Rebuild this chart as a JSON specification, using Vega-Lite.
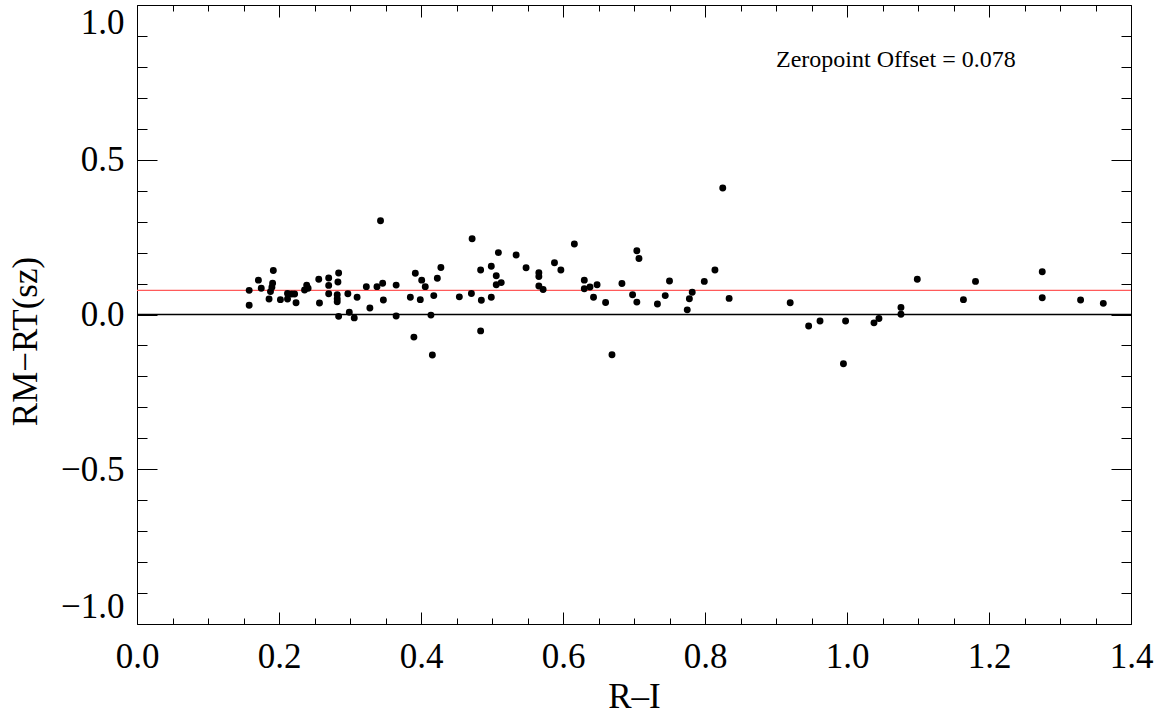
{
  "$schema": "https://vega.github.io/schema/vega-lite/v6.json",
  "width": 994,
  "height": 619,
  "autosize": {"type": "none"},
  "padding": {"left": 137, "top": 5, "right": 30, "bottom": 91},
  "background": "white",
  "config": {
    "view": {"stroke": null},
    "font": "Liberation Serif",
    "axis": {
      "domainColor": "black",
      "domainWidth": 1,
      "tickColor": "black",
      "tickWidth": 1,
      "grid": false,
      "labelFont": "Liberation Serif",
      "titleFont": "Liberation Serif",
      "labelFontSize": 35,
      "titleFontSize": 35,
      "labelColor": "black",
      "titleColor": "black",
      "titleFontWeight": "normal",
      "labelOverlap": false,
      "labelBound": false,
      "labelFlush": false
    }
  },
  "datasets": {
    "pts": [
      {"ri": 0.158, "dr": 0.078}, {"ri": 0.158, "dr": 0.030}, {"ri": 0.171, "dr": 0.111}, {"ri": 0.175, "dr": 0.085},
      {"ri": 0.186, "dr": 0.050}, {"ri": 0.188, "dr": 0.074}, {"ri": 0.190, "dr": 0.088}, {"ri": 0.191, "dr": 0.101},
      {"ri": 0.192, "dr": 0.142}, {"ri": 0.202, "dr": 0.048}, {"ri": 0.212, "dr": 0.050}, {"ri": 0.212, "dr": 0.068},
      {"ri": 0.218, "dr": 0.066}, {"ri": 0.222, "dr": 0.066}, {"ri": 0.224, "dr": 0.038}, {"ri": 0.236, "dr": 0.079},
      {"ri": 0.239, "dr": 0.095}, {"ri": 0.241, "dr": 0.085}, {"ri": 0.256, "dr": 0.114}, {"ri": 0.257, "dr": 0.037},
      {"ri": 0.270, "dr": 0.118}, {"ri": 0.270, "dr": 0.094}, {"ri": 0.270, "dr": 0.067}, {"ri": 0.282, "dr": 0.064},
      {"ri": 0.283, "dr": 0.105}, {"ri": 0.284, "dr": 0.134}, {"ri": 0.282, "dr": 0.051}, {"ri": 0.282, "dr": 0.041},
      {"ri": 0.284, "dr": -0.006}, {"ri": 0.297, "dr": 0.067}, {"ri": 0.299, "dr": 0.007}, {"ri": 0.306, "dr": -0.011},
      {"ri": 0.310, "dr": 0.056}, {"ri": 0.323, "dr": 0.090}, {"ri": 0.328, "dr": 0.021}, {"ri": 0.338, "dr": 0.090},
      {"ri": 0.343, "dr": 0.303}, {"ri": 0.346, "dr": 0.101}, {"ri": 0.347, "dr": 0.047}, {"ri": 0.365, "dr": 0.095},
      {"ri": 0.365, "dr": -0.005}, {"ri": 0.385, "dr": 0.056}, {"ri": 0.390, "dr": -0.073}, {"ri": 0.392, "dr": 0.133},
      {"ri": 0.399, "dr": 0.048}, {"ri": 0.401, "dr": 0.111}, {"ri": 0.406, "dr": 0.090}, {"ri": 0.414, "dr": -0.002},
      {"ri": 0.416, "dr": -0.131}, {"ri": 0.418, "dr": 0.061}, {"ri": 0.423, "dr": 0.117}, {"ri": 0.428, "dr": 0.152},
      {"ri": 0.454, "dr": 0.057}, {"ri": 0.471, "dr": 0.068}, {"ri": 0.472, "dr": 0.245}, {"ri": 0.484, "dr": 0.144},
      {"ri": 0.485, "dr": 0.046}, {"ri": 0.484, "dr": -0.053}, {"ri": 0.499, "dr": 0.156}, {"ri": 0.499, "dr": 0.056},
      {"ri": 0.506, "dr": 0.125}, {"ri": 0.506, "dr": 0.096}, {"ri": 0.509, "dr": 0.200}, {"ri": 0.513, "dr": 0.103},
      {"ri": 0.534, "dr": 0.192}, {"ri": 0.548, "dr": 0.151}, {"ri": 0.566, "dr": 0.135}, {"ri": 0.566, "dr": 0.123},
      {"ri": 0.566, "dr": 0.092}, {"ri": 0.572, "dr": 0.081}, {"ri": 0.588, "dr": 0.167}, {"ri": 0.597, "dr": 0.144},
      {"ri": 0.616, "dr": 0.228}, {"ri": 0.630, "dr": 0.111}, {"ri": 0.630, "dr": 0.083}, {"ri": 0.638, "dr": 0.089},
      {"ri": 0.643, "dr": 0.056}, {"ri": 0.648, "dr": 0.096}, {"ri": 0.660, "dr": 0.039}, {"ri": 0.669, "dr": -0.130},
      {"ri": 0.683, "dr": 0.100}, {"ri": 0.698, "dr": 0.064}, {"ri": 0.704, "dr": 0.206}, {"ri": 0.707, "dr": 0.181},
      {"ri": 0.704, "dr": 0.040}, {"ri": 0.733, "dr": 0.034}, {"ri": 0.744, "dr": 0.061}, {"ri": 0.750, "dr": 0.108},
      {"ri": 0.775, "dr": 0.015}, {"ri": 0.778, "dr": 0.051}, {"ri": 0.782, "dr": 0.072}, {"ri": 0.799, "dr": 0.107},
      {"ri": 0.814, "dr": 0.144}, {"ri": 0.825, "dr": 0.409}, {"ri": 0.834, "dr": 0.052}, {"ri": 0.920, "dr": 0.038},
      {"ri": 0.946, "dr": -0.037}, {"ri": 0.962, "dr": -0.021}, {"ri": 0.995, "dr": -0.159}, {"ri": 0.998, "dr": -0.021},
      {"ri": 1.038, "dr": -0.027}, {"ri": 1.045, "dr": -0.013}, {"ri": 1.076, "dr": 0.023}, {"ri": 1.076, "dr": 0.001},
      {"ri": 1.099, "dr": 0.114}, {"ri": 1.164, "dr": 0.048}, {"ri": 1.181, "dr": 0.107}, {"ri": 1.275, "dr": 0.138},
      {"ri": 1.275, "dr": 0.054}, {"ri": 1.329, "dr": 0.047}, {"ri": 1.361, "dr": 0.036}
    ],
    "refs": [{"level": 0.0, "kind": "zero"}, {"level": 0.078, "kind": "offset"}],
    "note": [{"ri": 0.9, "dr": 0.8, "label": "Zeropoint Offset = 0.078"}]
  },
  "layer": [
    {
      "data": {"name": "refs"},
      "mark": {"type": "rule", "strokeWidth": 1.3},
      "encoding": {
        "y": {"field": "level", "type": "quantitative", "axis": null, "scale": {"domain": [-1, 1], "nice": false, "zero": false}},
        "color": {"field": "kind", "type": "nominal", "legend": null, "scale": {"domain": ["zero", "offset"], "range": ["#000000", "#ff5a5a"]}}
      }
    },
    {
      "data": {"name": "pts"},
      "mark": {"type": "circle", "size": 48, "color": "black", "opacity": 1},
      "encoding": {
        "x": {
          "field": "ri", "type": "quantitative", "title": "R–I",
          "scale": {"domain": [0, 1.4], "nice": false, "zero": false},
          "axis": {
            "orient": "bottom",
            "values": [0, 0.05, 0.1, 0.15, 0.2, 0.25, 0.3, 0.35, 0.4, 0.45, 0.5, 0.55, 0.6, 0.65, 0.7, 0.75, 0.8, 0.85, 0.9, 0.95, 1.0, 1.05, 1.1, 1.15, 1.2, 1.25, 1.3, 1.35, 1.4],
            "tickSize": {"condition": {"test": "abs(datum.value*5-round(datum.value*5))<0.001", "value": -12}, "value": -6},
            "labelExpr": "abs(datum.value*5-round(datum.value*5))<0.001 ? format(datum.value, '.1f') : ''",
            "labelPadding": 27,
            "titlePadding": -1
          }
        },
        "y": {
          "field": "dr", "type": "quantitative", "title": "RM−RT(sz)",
          "scale": {"domain": [-1, 1], "nice": false, "zero": false},
          "axis": {
            "orient": "left",
            "values": [-1, -0.9, -0.8, -0.7, -0.6, -0.5, -0.4, -0.3, -0.2, -0.1, 0, 0.1, 0.2, 0.3, 0.4, 0.5, 0.6, 0.7, 0.8, 0.9, 1],
            "tickSize": {"condition": {"test": "abs(datum.value*2-round(datum.value*2))<0.001", "value": -20}, "value": -10},
            "labelExpr": "abs(datum.value*2-round(datum.value*2))<0.001 ? format(datum.value, '.1f') : ''",
            "labelFlush": true,
            "labelPadding": 33,
            "titlePadding": 17,
            "titleY": 336
          }
        }
      }
    },
    {
      "data": {"name": "note"},
      "mark": {"type": "text", "align": "left", "baseline": "alphabetic", "fontSize": 24, "font": "Liberation Serif", "color": "black"},
      "encoding": {
        "x": {
          "field": "ri", "type": "quantitative",
          "scale": {"domain": [0, 1.4], "nice": false, "zero": false},
          "axis": {
            "orient": "top", "title": null, "labels": false,
            "values": [0, 0.05, 0.1, 0.15, 0.2, 0.25, 0.3, 0.35, 0.4, 0.45, 0.5, 0.55, 0.6, 0.65, 0.7, 0.75, 0.8, 0.85, 0.9, 0.95, 1.0, 1.05, 1.1, 1.15, 1.2, 1.25, 1.3, 1.35, 1.4],
            "tickSize": {"condition": {"test": "abs(datum.value*5-round(datum.value*5))<0.001", "value": -12}, "value": -6}
          }
        },
        "y": {
          "field": "dr", "type": "quantitative",
          "scale": {"domain": [-1, 1], "nice": false, "zero": false},
          "axis": {
            "orient": "right", "title": null, "labels": false,
            "values": [-1, -0.9, -0.8, -0.7, -0.6, -0.5, -0.4, -0.3, -0.2, -0.1, 0, 0.1, 0.2, 0.3, 0.4, 0.5, 0.6, 0.7, 0.8, 0.9, 1],
            "tickSize": {"condition": {"test": "abs(datum.value*2-round(datum.value*2))<0.001", "value": -20}, "value": -10}
          }
        },
        "text": {"field": "label", "type": "nominal"}
      }
    }
  ],
  "resolve": {"scale": {"x": "shared", "y": "shared"}, "axis": {"x": "independent", "y": "independent"}}
}
